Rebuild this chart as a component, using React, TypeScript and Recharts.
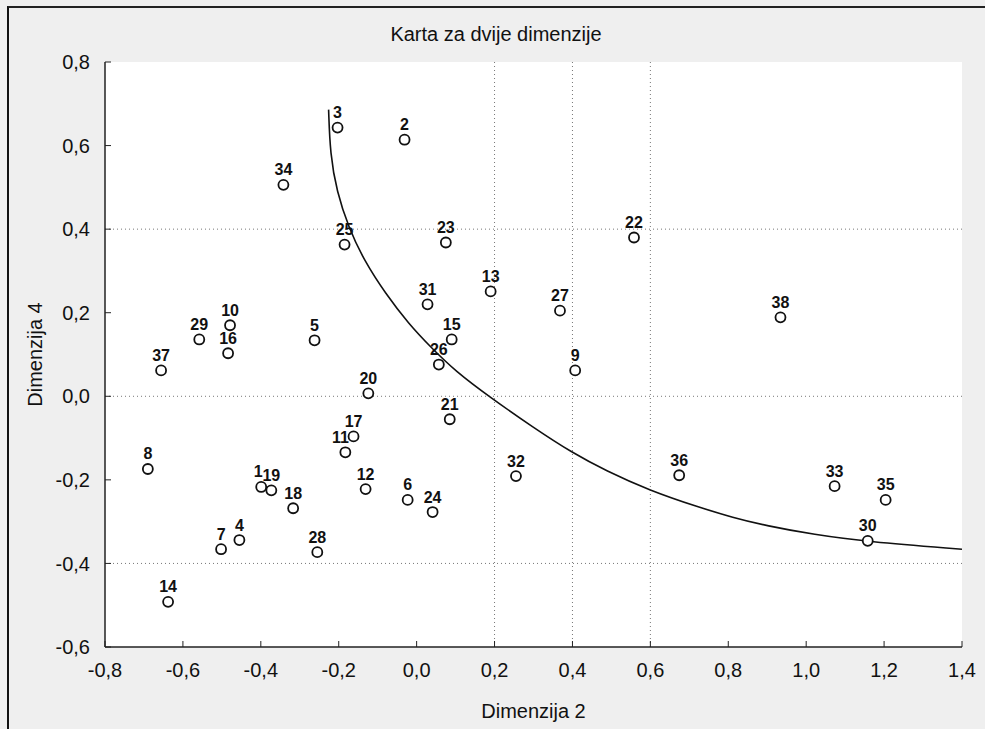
import React from "react";
import {
  ComposedChart, Scatter, Line, XAxis, YAxis, CartesianGrid,
  ReferenceLine, LabelList,
} from "recharts";

// points (Dimenzija 2 on x, Dimenzija 4 on y)
const pointIds = [
  1, 2, 3, 4, 5, 6, 7, 8, 9, 10, 11, 12, 13, 14, 15, 16, 17, 18, 19,
  20, 21, 22, 23, 24, 25, 26, 27, 28, 29, 30, 31, 32, 33, 34, 35, 36, 37, 38,
];
const pointX = [
  -0.399, -0.031, -0.203, -0.455, -0.262, -0.023, -0.502, -0.69, 0.407, -0.479,
  -0.183, -0.131, 0.19, -0.638, 0.09, -0.484, -0.162, -0.317, -0.373, -0.124,
  0.085, 0.558, 0.075, 0.041, -0.185, 0.057, 0.368, -0.255, -0.558, 1.158,
  0.028, 0.255, 1.073, -0.342, 1.204, 0.674, -0.656, 0.934,
];
const pointY = [
  -0.217, 0.614, 0.643, -0.344, 0.134, -0.248, -0.366, -0.174, 0.062, 0.17,
  -0.134, -0.222, 0.251, -0.492, 0.136, 0.103, -0.096, -0.268, -0.225, 0.007,
  -0.055, 0.38, 0.368, -0.277, 0.363, 0.076, 0.205, -0.373, 0.136, -0.346,
  0.22, -0.191, -0.215, 0.506, -0.248, -0.189, 0.062, 0.189,
];

// the hand-drawn separating curve, traced point by point
const curveX = [
  -0.226, -0.222, -0.205, -0.175, -0.135, -0.08, -0.021, 0.039, 0.1, 0.185,
  0.3, 0.399, 0.486, 0.597, 0.726, 0.811, 0.898, 1.02, 1.155, 1.4,
];
const curveY = [
  0.686, 0.58, 0.49, 0.405, 0.325, 0.246, 0.174, 0.115, 0.06, 0.0,
  -0.075, -0.135, -0.178, -0.225, -0.266, -0.29, -0.31, -0.331, -0.348, -0.366,
];

const xTicks = [-0.8, -0.6, -0.4, -0.2, 0, 0.2, 0.4, 0.6, 0.8, 1.0, 1.2, 1.4];
const yTicks = [-0.6, -0.4, -0.2, 0, 0.2, 0.4, 0.6, 0.8];
const xGrid = [0.2, 0.4, 0.6];
const yGrid = [0.4, 0, -0.4];

const points = pointIds.map((id, i) => ({ id: String(id), x: pointX[i], y: pointY[i] }));
const curve = curveX.map((x, i) => ({ x, y: curveY[i] }));

const FONT = "'Liberation Sans', Arial, sans-serif";
const fmt = (v: number) => v.toFixed(1).replace(".", ",");

// a couple of labels sit a bit left of their dot in the original
const labelShift: Record<string, number> = { "1": -3, "11": -5 };

const OpenDot = (props: { cx?: number; cy?: number }) => {
  const { cx = 0, cy = 0 } = props;
  return <circle cx={cx} cy={cy} r={5} fill="#fff" stroke="#111" strokeWidth={1.8} />;
};

const PointLabel = (props: { x?: number; y?: number; width?: number; value?: string | number }) => {
  const { x = 0, y = 0, width = 0, value } = props;
  const dx = labelShift[String(value)] || 0;
  return (
    <text
      x={x + width / 2 + dx} y={y - 5} textAnchor="middle"
      fill="#111" fontSize={16} fontWeight="bold" fontFamily={FONT}
    >
      {value}
    </text>
  );
};

const tickStyle = { fill: "#111", fontSize: 20, fontFamily: FONT };

export default function App() {
  return (
    <div style={{ position: "relative", width: 985, height: 729, background: "#efefef", overflow: "hidden" }}>
      <style>{`body{margin:0}`}</style>
      <div
        style={{
          position: "absolute", left: 7, top: 6, right: -4, bottom: -4,
          borderLeft: "2px solid #111", borderTop: "2px solid #222",
        }}
      />
      <div
        style={{
          position: "absolute", top: 23, left: 0, width: 992, textAlign: "center",
          fontFamily: FONT, fontSize: 20, color: "#111",
        }}
      >
        Karta za dvije dimenzije
      </div>
      <ComposedChart
        width={985}
        height={729}
        margin={{ top: 62, right: 23, bottom: 9, left: 25 }}
        style={{ position: "absolute", left: 0, top: 0 }}
      >
        <CartesianGrid horizontal={false} vertical={false} fill="#fff" />
        <XAxis
          xAxisId="b" dataKey="x" type="number" domain={[-0.8, 1.4]} ticks={xTicks}
          allowDataOverflow height={73} tickFormatter={fmt}
          tick={tickStyle} tickSize={-6} tickMargin={22}
          axisLine={{ stroke: "#222", strokeWidth: 1.5 }} tickLine={{ stroke: "#222" }}
          label={{ value: "Dimenzija 2", position: "insideBottom", offset: 2, fill: "#111", fontSize: 20, fontFamily: FONT }}
        />
        <XAxis
          xAxisId="t" orientation="top" dataKey="x" type="number" domain={[-0.8, 1.4]} ticks={xTicks}
          allowDataOverflow height={0} tick={false} tickSize={-6}
          axisLine={{ stroke: "#222", strokeWidth: 1.5 }} tickLine={{ stroke: "#222" }}
        />
        <YAxis
          yAxisId="l" dataKey="y" type="number" domain={[-0.6, 0.8]} ticks={yTicks}
          allowDataOverflow width={80} tickFormatter={fmt}
          tick={tickStyle} tickSize={-6} tickMargin={21}
          axisLine={{ stroke: "#222", strokeWidth: 1.5 }} tickLine={{ stroke: "#222" }}
          label={{ value: "Dimenzija 4", angle: -90, position: "insideLeft", offset: 10, fill: "#111", fontSize: 20, fontFamily: FONT, style: { textAnchor: "middle" } }}
        />
        <YAxis
          yAxisId="r" orientation="right" dataKey="y" type="number" domain={[-0.6, 0.8]} ticks={yTicks}
          allowDataOverflow width={0} tick={false} tickSize={-6}
          axisLine={{ stroke: "#222", strokeWidth: 1.5 }} tickLine={{ stroke: "#222" }}
        />
        {xGrid.map((v) => (
          <ReferenceLine key={"x" + v} xAxisId="b" yAxisId="l" x={v} stroke="#777" strokeDasharray="1 3" />
        ))}
        {yGrid.map((v) => (
          <ReferenceLine key={"y" + v} xAxisId="b" yAxisId="l" y={v} stroke="#777" strokeDasharray="1 3" />
        ))}
        <Line
          xAxisId="b" yAxisId="l" data={curve} dataKey="y" type="basis"
          stroke="#111" strokeWidth={1.6} dot={false} activeDot={false}
          isAnimationActive={false}
        />
        <Scatter
          xAxisId="b" yAxisId="l" data={points} dataKey="y" shape={<OpenDot />}
          isAnimationActive={false}
        >
          <LabelList dataKey="id" content={<PointLabel />} />
        </Scatter>
      </ComposedChart>
    </div>
  );
}
